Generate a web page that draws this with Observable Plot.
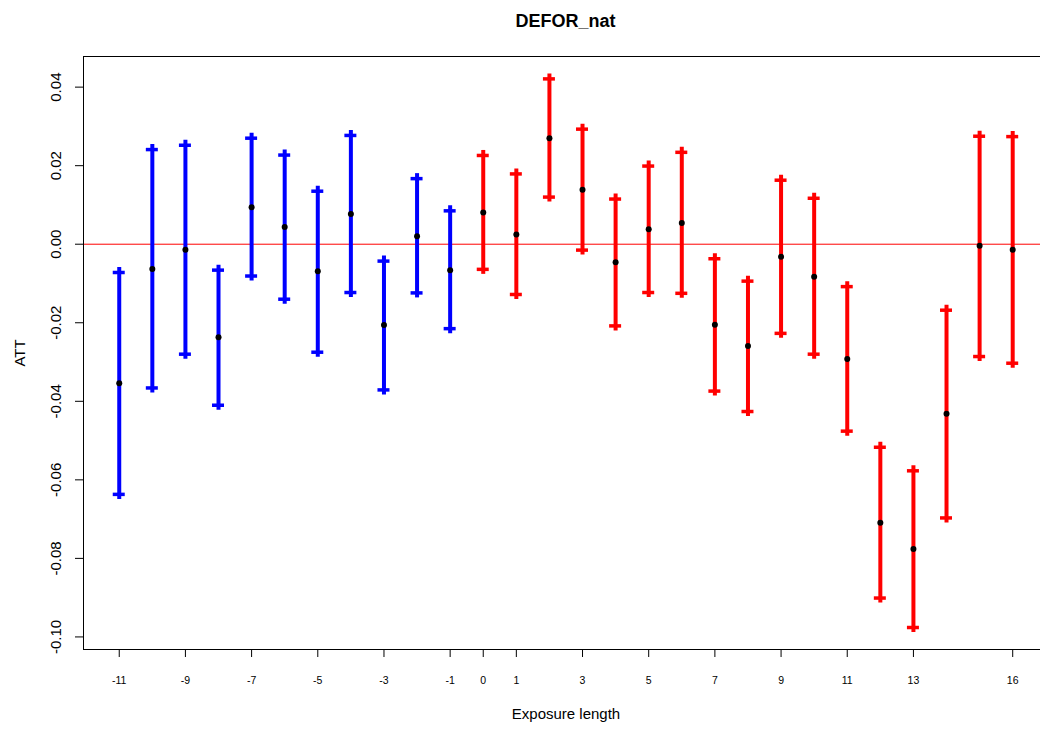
<!DOCTYPE html>
<html>
<head>
<meta charset="utf-8">
<script src="https://cdn.jsdelivr.net/npm/d3@7"></script>
<script src="https://cdn.jsdelivr.net/npm/@observablehq/plot@0.6"></script>
<style>
  body { margin: 0; background: #fff; font-family: "Liberation Sans", Arial, sans-serif; }
  #title { height: 38px; padding-top: 2px; padding-left: 91px; box-sizing: content-box; text-align: center; font: bold 18px/38px "Liberation Sans", Arial, sans-serif; color: #000; }
  #chart svg { display: block; }
</style>
</head>
<body>
<div id="title" style="width:949px">DEFOR_nat</div>
<div id="chart"></div>
<script>
const exposure = [-11, -10, -9, -8, -7, -6, -5, -4, -3, -2, -1, 0, 1, 2, 3, 4, 5, 6, 7, 8, 9, 10, 11, 12, 13, 14, 15, 16];
const att   = [-0.0354, -0.0063, -0.0014, -0.0237, 0.0094, 0.0044, -0.0069, 0.0077, -0.0206, 0.0020, -0.0066, 0.0081, 0.0025, 0.0270, 0.0139, -0.0046, 0.0038, 0.0054, -0.0205, -0.0259, -0.0032, -0.0083, -0.0292, -0.0709, -0.0776, -0.0432, -0.0004, -0.0014];
const upper = [-0.0072, 0.0241, 0.0252, -0.0066, 0.0270, 0.0227, 0.0135, 0.0277, -0.0043, 0.0167, 0.0085, 0.0226, 0.0179, 0.0421, 0.0293, 0.0115, 0.0199, 0.0234, -0.0037, -0.0094, 0.0163, 0.0117, -0.0108, -0.0517, -0.0577, -0.0168, 0.0275, 0.0274];
const lower = [-0.0637, -0.0366, -0.0280, -0.0410, -0.0081, -0.0140, -0.0275, -0.0123, -0.0371, -0.0124, -0.0215, -0.0064, -0.0128, 0.0120, -0.0015, -0.0208, -0.0123, -0.0125, -0.0374, -0.0426, -0.0227, -0.0280, -0.0476, -0.0901, -0.0976, -0.0697, -0.0286, -0.0303];
const xTickValues = [-11, -9, -7, -5, -3, -1, 0, 1, 3, 5, 7, 9, 11, 13, 16];
const yTickValues = [-0.10, -0.08, -0.06, -0.04, -0.02, 0.00, 0.02, 0.04];

const data = exposure.map((x, i) => ({x, att: att[i], lower: lower[i], upper: upper[i], period: x < 0 ? "pre" : "post"}));
const xDomain = [-12.08, 16.84];
const yDomain = [-0.1032, 0.0478];
const font = '"Liberation Sans", Arial, sans-serif';

const chart = Plot.plot({
  width: 1040,
  height: 689,
  marginTop: 16,
  marginBottom: 80,
  marginLeft: 83,
  marginRight: 0,
  style: {fontFamily: font, color: "#000", background: "#fff", overflow: "visible"},
  x: {domain: xDomain},
  y: {domain: yDomain},
  color: {domain: ["pre", "post"], range: ["#0000ff", "#ff0000"]},
  marks: [
    Plot.ruleY([0], {stroke: "#ff0000", strokeWidth: 1}),
    Plot.ruleX(data, {x: "x", y1: "upper", y2: "lower", stroke: "period", strokeWidth: 4, insetTop: -5, insetBottom: -5}),
    Plot.ruleY(data, {y: "upper", x1: "x", x2: "x", stroke: "period", strokeWidth: 3.5, insetLeft: -6, insetRight: -6}),
    Plot.ruleY(data, {y: "lower", x1: "x", x2: "x", stroke: "period", strokeWidth: 3.5, insetLeft: -6, insetRight: -6}),
    Plot.dot(data, {x: "x", y: "att", r: 3, fill: "#000", stroke: null}),
    Plot.ruleY([yDomain[1]], {stroke: "#000", strokeWidth: 1}),
    Plot.ruleY([yDomain[0]], {stroke: "#000", strokeWidth: 1}),
    Plot.ruleX([xDomain[0]], {stroke: "#000", strokeWidth: 1}),
    Plot.axisX({ticks: xTickValues, tickSize: 8, tickPadding: 19, tickFormat: d => String(d), fontSize: 10.5, label: null, stroke: "#000"}),
    Plot.axisY({ticks: yTickValues, tickSize: 8, tickFormat: () => "", label: null, stroke: "#000"}),
    Plot.text(yTickValues, {y: d => d, text: d => d.toFixed(2), frameAnchor: "left", textAnchor: "middle", dx: -27, rotate: -90, fontSize: 15, fill: "#000"}),
    Plot.text(["Exposure length"], {frameAnchor: "bottom", dy: 69, dx: 4, fontSize: 15, fill: "#000"}),
    Plot.text(["ATT"], {frameAnchor: "left", textAnchor: "middle", dx: -63, rotate: -90, fontSize: 15, fill: "#000"})
  ]
});
document.getElementById("chart").appendChild(chart);
</script>
</body>
</html>
